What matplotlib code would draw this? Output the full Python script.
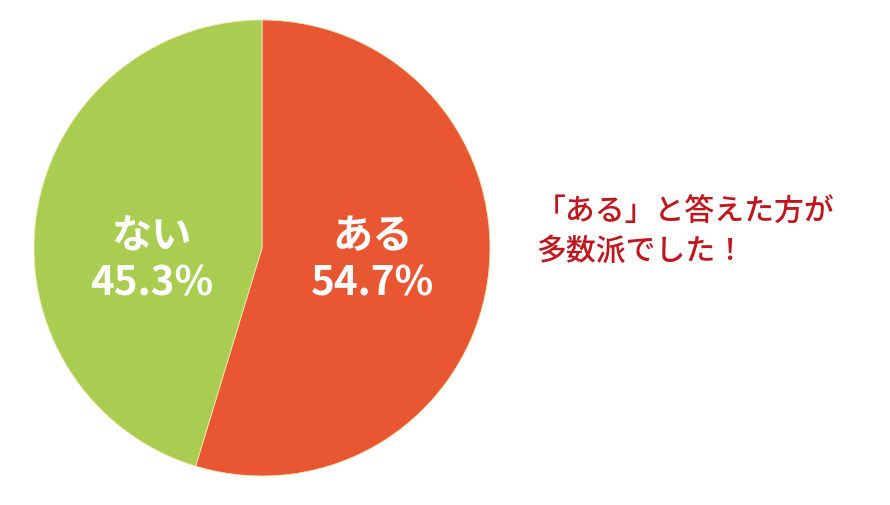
import matplotlib.pyplot as plt

plt.rcParams['font.family'] = ['Noto Sans CJK JP', 'DejaVu Sans']

labels = ["ある", "ない"]
values = [54.7, 45.3]
colors = ["#E85632", "#A8CD51"]
note = "「ある」と答えた方が\n多数派でした！"

fig = plt.figure(figsize=(8.9, 5.06), dpi=100)
ax = fig.add_axes([34 / 890, 29 / 506, 456 / 890, 456 / 506])

wedges, texts, autotexts = ax.pie(
    values,
    colors=colors,
    startangle=90,
    counterclock=False,
    radius=1.0,
    autopct=lambda p: "",
    pctdistance=0.49,
    wedgeprops=dict(edgecolor="#F4E6B0", linewidth=0.6),
)

# both labels sit on the same level in the original
for t, lab, val in zip(autotexts, labels, values):
    x, _ = t.get_position()
    t.set_position((x, -0.05))
    t.set_text(f"{lab}\n{val:.1f}%")
    t.set_color("white")
    t.set_fontsize(29)
    t.set_fontweight("bold")
    t.set_linespacing(1.2)
    t.set_ha("center")
    t.set_va("center")

ax.set_xlim(-1, 1)
ax.set_ylim(-1, 1)
ax.set_aspect("equal")
ax.axis("off")

fig.text(536 / 890, 1 - 232 / 506, note, color="#C0161C", fontsize=21.5,
         fontweight="medium", ha="left", va="center", linespacing=1.33)

fig.savefig("out.png", dpi=100, facecolor="white")
